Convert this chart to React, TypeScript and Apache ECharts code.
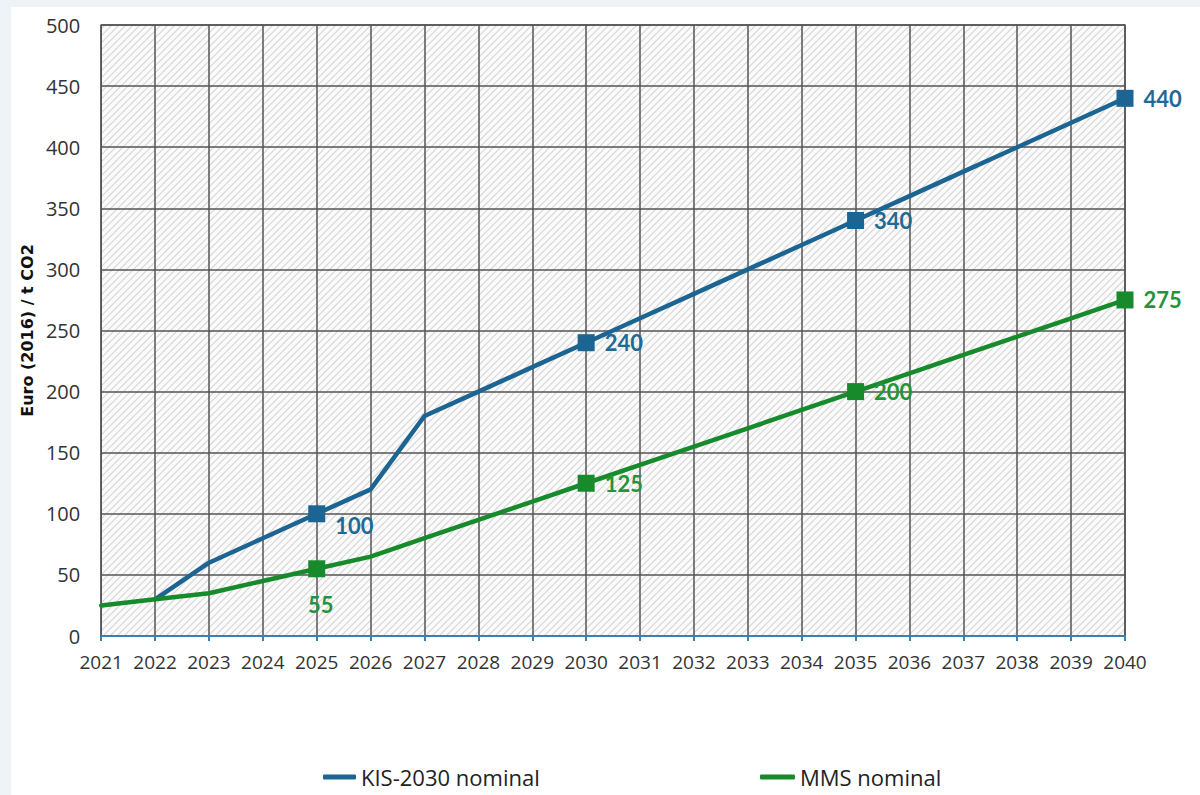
import React, { useEffect, useRef } from "react";
import * as echarts from "echarts";

const years = ["2021","2022","2023","2024","2025","2026","2027","2028","2029","2030","2031","2032","2033","2034","2035","2036","2037","2038","2039","2040"];
const kisValues: (number | null)[] = [null, 30, 60, 80, 100, 120, 180, 200, 220, 240, 260, 280, 300, 320, 340, 360, 380, 400, 420, 440];
const mmsValues: number[] = [25, 30, 35, 45, 55, 65, 80, 95, 110, 125, 140, 155, 170, 185, 200, 215, 230, 245, 260, 275];
const markerYears = ["2025", "2030", "2035", "2040"];
const yTicks = { min: 0, max: 500, interval: 50 };

const KIS_NAME = "KIS-2030 nominal";
const MMS_NAME = "MMS nominal";
const BLUE = "#1c6492";
const BLUE_LABEL = "#1f6a96";
const GREEN = "#178a2c";
const GREEN_LABEL = "#24933a";

function makeHatch(): string {
  const c = document.createElement("canvas");
  const s = 7;
  c.width = s;
  c.height = s;
  const ctx = c.getContext("2d")!;
  ctx.fillStyle = "#fbfbfb";
  ctx.fillRect(0, 0, s, s);
  ctx.strokeStyle = "#d6d6d6";
  ctx.lineWidth = 1.2;
  ctx.beginPath();
  ctx.moveTo(-1, s + 1);
  ctx.lineTo(s + 1, -1);
  ctx.moveTo(-1, 1);
  ctx.lineTo(1, -1);
  ctx.moveTo(s - 1, s + 1);
  ctx.lineTo(s + 1, s - 1);
  ctx.stroke();
  return c.toDataURL();
}

export default function App() {
  const ref = useRef<HTMLDivElement>(null);
  useEffect(() => {
    if (!ref.current) return;
    const chart = echarts.init(ref.current, undefined, { renderer: "svg" });
    const hatch = makeHatch();
    const font = "'Open Sans', sans-serif";
    const labelFont = "Lato, 'Open Sans', sans-serif";
    const legendFont = "'Open Sans', sans-serif";

    const buildData = (vals: (number | null)[], color: string, special: Record<string, any>) =>
      vals.map((v, i) => {
        const y = years[i];
        if (markerYears.includes(y) && v != null) {
          return {
            value: v,
            symbol: "rect",
            symbolSize: 17,
            label: {
              show: true,
              position: "right",
              distance: 10,
              color,
              fontSize: 22,
              fontWeight: "bold",
              fontFamily: labelFont,
              ...(special[y] || {}),
            },
          };
        }
        return { value: v, symbol: "none" };
      });

    chart.setOption({
      animation: false,
      backgroundColor: "transparent",
      grid: {
        left: 90,
        right: 75,
        top: 18,
        bottom: 159,
        show: true,
        backgroundColor: { image: hatch, repeat: "repeat" } as any,
        borderColor: "#555",
        borderWidth: 1.5,
      },
      legend: [
        {
          data: [KIS_NAME],
          left: 307,
          top: 754,
          icon: "roundRect",
          itemWidth: 33,
          itemHeight: 5,
          itemGap: 2,
          textStyle: { fontSize: 22, color: "#222", fontFamily: legendFont },
        },
        {
          data: [MMS_NAME],
          left: 744,
          top: 754,
          icon: "roundRect",
          itemWidth: 35,
          itemHeight: 5,
          itemGap: 6,
          textStyle: { fontSize: 22, color: "#222", fontFamily: legendFont },
        },
      ],
      xAxis: {
        type: "category",
        data: years,
        boundaryGap: false,
        axisLine: { show: true, lineStyle: { color: "#3a7fb5", width: 2 } },
        axisTick: { show: true, interval: 0, length: 5, lineStyle: { color: "#3a7fb5", width: 2 } },
        axisLabel: { interval: 0, hideOverlap: false, color: "#333", fontSize: 19, margin: 16, fontFamily: font },
        splitLine: { show: true, interval: 0, lineStyle: { color: "#555", width: 1.5 } },
      },
      yAxis: {
        type: "value",
        min: yTicks.min,
        max: yTicks.max,
        interval: yTicks.interval,
        name: "Euro (2016) / t CO2",
        nameLocation: "middle",
        nameGap: 60,
        nameTextStyle: { fontSize: 16, fontWeight: "bold", color: "#111", fontFamily: "'DejaVu Sans', sans-serif" },
        axisLine: { show: false },
        axisTick: { show: false },
        axisLabel: { color: "#333", fontSize: 20, margin: 21, fontFamily: font },
        splitLine: { show: true, lineStyle: { color: "#555", width: 1.5 } },
      },
      series: [
        {
          name: KIS_NAME,
          type: "line",
          color: BLUE,
          lineStyle: { color: BLUE, width: 4.5, join: "round", cap: "round" },
          itemStyle: { color: BLUE },
          data: buildData(kisValues, BLUE_LABEL, { "2025": { offset: [0, 12] } }),
          z: 3,
        },
        {
          name: MMS_NAME,
          type: "line",
          color: GREEN,
          lineStyle: { color: GREEN, width: 4.5, join: "round", cap: "round" },
          itemStyle: { color: GREEN },
          data: buildData(mmsValues, GREEN_LABEL, { "2025": { position: "bottom", distance: 16, offset: [4, 0] } }),
          z: 4,
        },
      ],
    });
    return () => chart.dispose();
  }, []);

  return (
    <div style={{ position: "fixed", left: 0, top: 0, width: 1200, height: 795, background: "#eef3f7" }}>
      <div
        ref={ref}
        style={{ position: "absolute", left: 11, top: 7, width: 1189, height: 788, background: "#ffffff" }}
      />
    </div>
  );
}
